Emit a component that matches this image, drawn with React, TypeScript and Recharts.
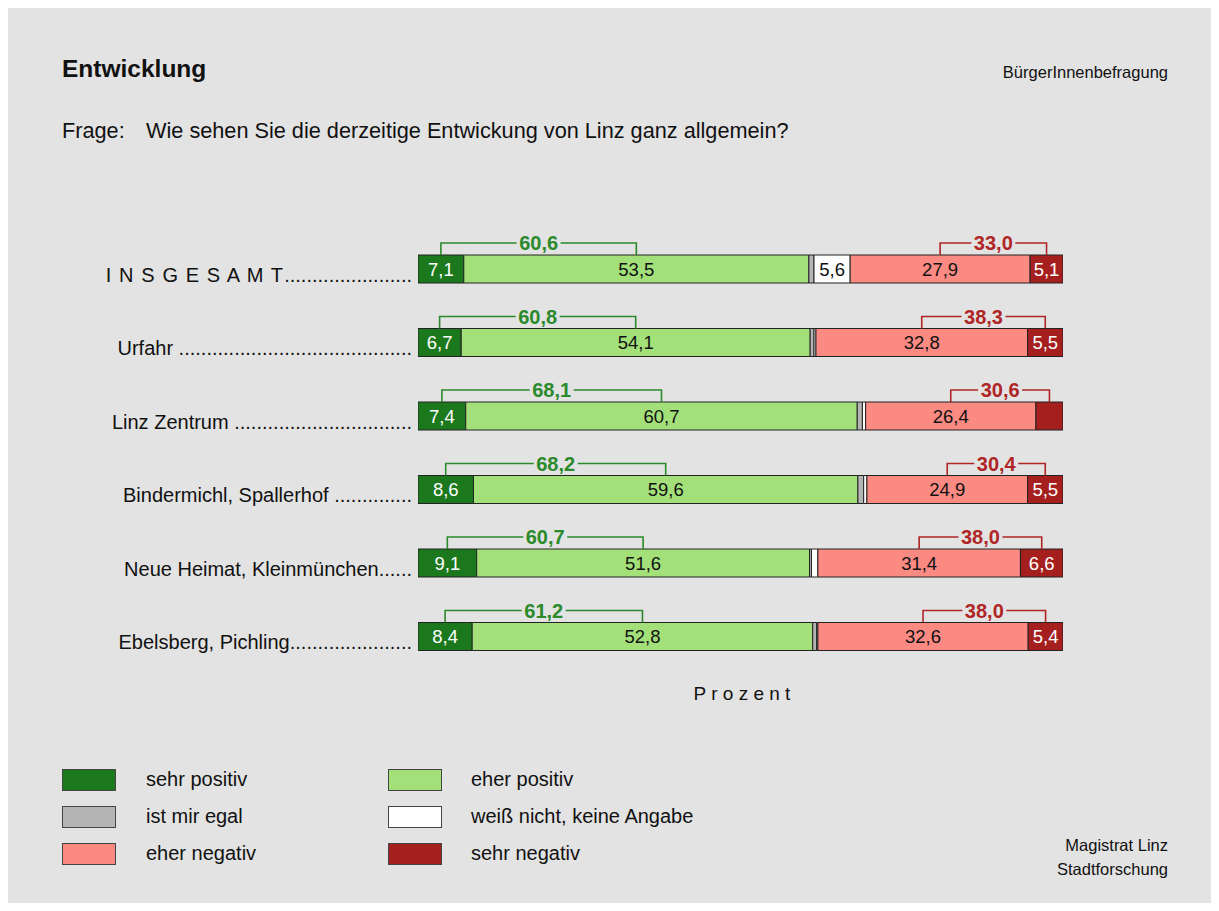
import React from 'react';
import { BarChart, Bar, XAxis, YAxis, LabelList } from 'recharts';

const categories = [
  'I N S G E S A M T',
  'Urfahr ',
  'Linz Zentrum ',
  'Bindermichl, Spallerhof ',
  'Neue Heimat, Kleinmünchen',
  'Ebelsberg, Pichling',
];
const leaderDots = [23, 42, 32, 14, 6, 22];
const sehrPositiv = [7.1, 6.7, 7.4, 8.6, 9.1, 8.4];
const eherPositiv = [53.5, 54.1, 60.7, 59.6, 51.6, 52.8];
const egal = [0.8, 0.6, 0.8, 0.9, 0.3, 0.6];
const weissNicht = [5.6, 0.3, 0.5, 0.5, 1.0, 0.2];
const eherNegativ = [27.9, 32.8, 26.4, 24.9, 31.4, 32.6];
const sehrNegativ = [5.1, 5.5, 4.2, 5.5, 6.6, 5.4];

const FONT = '"Liberation Sans", Arial, Helvetica, sans-serif';
const BG = '#e3e3e3';
const STROKE = '#222';

const C = {
  sp: '#1c781c',
  ep: '#a3e07a',
  eg: '#b4b4b4',
  wn: '#ffffff',
  en: '#fb8a83',
  sn: '#a61f1f',
};
const GREEN = '#2b8a2b';
const RED = '#b02626';

const data = categories.map((name, i) => ({
  name,
  sp: sehrPositiv[i],
  ep: eherPositiv[i],
  eg: egal[i],
  wn: weissNicht[i],
  en: eherNegativ[i],
  sn: sehrNegativ[i],
}));

const fmt = (v: number) => v.toFixed(1).replace('.', ',');

let ctx: CanvasRenderingContext2D | null = null;
const measure = (s: string, font: string) => {
  if (!ctx) ctx = document.createElement('canvas').getContext('2d');
  if (!ctx) return s.length * 10;
  ctx.font = font;
  return ctx.measureText(s).width;
};

const LABEL_END = 404;

const CategoryTick = ({ y, payload, index }: any) => {
  const i = index ?? categories.indexOf(payload.value);
  return (
    <text x={LABEL_END} y={y + 13} fontSize={20} fontFamily={FONT} fill="#111" textAnchor="end">
      <tspan letterSpacing={i === 0 ? 1.1 : 0}>{payload.value}</tspan>
      <tspan>{'.'.repeat(leaderDots[i] ?? 0)}</tspan>
    </text>
  );
};

const valueLabel = (color: string) => (props: any) => {
  const { x, y, width, height, value } = props;
  if (value == null || value < 5) return null;
  return (
    <text
      x={x + width / 2}
      y={y + height / 2 + 6.5}
      textAnchor="middle"
      fontSize={18.5}
      fontFamily={FONT}
      fill={color}
    >
      {fmt(value)}
    </text>
  );
};

const Bracket = ({ x1, x2, top, label, color }: any) => {
  const ly = top - 12;
  const font = `bold 20px ${FONT}`;
  const tw = measure(label, font) + 5;
  const cx = (x1 + x2) / 2;
  return (
    <g>
      <path
        d={`M${x1},${top} V${ly} H${x2} V${top}`}
        fill="none"
        stroke={color}
        strokeWidth={1.6}
      />
      <rect x={cx - tw / 2} y={ly - 4} width={tw} height={8} fill={BG} />
      <text x={cx} y={ly + 7} textAnchor="middle" fontSize={20} fontWeight="bold" fontFamily={FONT} fill={color}>
        {label}
      </text>
    </g>
  );
};

// bracket from centre of "sehr positiv" to centre of "eher positiv"
const positiveBracket = (props: any) => {
  const { x, y, width, value, index } = props;
  const ppu = width / value;
  const sp = sehrPositiv[index];
  const x1 = x - (sp * ppu) / 2;
  const x2 = x + width / 2;
  return <Bracket x1={x1} x2={x2} top={y} label={fmt(sp + value)} color={GREEN} />;
};

// bracket from centre of "eher negativ" to centre of "sehr negativ"
const negativeBracket = (props: any) => {
  const { x, y, width, value, index } = props;
  const ppu = width / value;
  const en = eherNegativ[index];
  const x1 = x - (en * ppu) / 2;
  const x2 = x + width / 2;
  return <Bracket x1={x1} x2={x2} top={y} label={fmt(en + value)} color={RED} />;
};

const legendItems = [
  { label: 'sehr positiv', color: C.sp, col: 0, row: 0 },
  { label: 'eher positiv', color: C.ep, col: 1, row: 0 },
  { label: 'ist mir egal', color: C.eg, col: 0, row: 1 },
  { label: 'weiß nicht, keine Angabe', color: C.wn, col: 1, row: 1 },
  { label: 'eher negativ', color: C.en, col: 0, row: 2 },
  { label: 'sehr negativ', color: C.sn, col: 1, row: 2 },
];

const txt = (size: number, baseline: number): React.CSSProperties => ({
  position: 'absolute',
  fontSize: size,
  lineHeight: 1,
  top: baseline - 0.85 * size,
  whiteSpace: 'nowrap',
  color: '#111',
});

export default function App() {
  return (
    <div
      style={{
        position: 'relative',
        width: 1203,
        height: 895,
        background: BG,
        fontFamily: FONT,
        overflow: 'hidden',
      }}
    >
      <div style={{ ...txt(24.5, 70), left: 54, fontWeight: 'bold' }}>Entwicklung</div>
      <div style={{ ...txt(16.5, 70), right: 43 }}>BürgerInnenbefragung</div>
      <div style={{ ...txt(21.7, 130), left: 54 }}>Frage:</div>
      <div style={{ ...txt(21.7, 130), left: 138 }}>Wie sehen Sie die derzeitige Entwickung von Linz ganz allgemein?</div>

      <div style={{ position: 'absolute', left: 0, top: 0 }}>
        <BarChart
          width={1203}
          height={895}
          data={data}
          layout="vertical"
          margin={{ top: 224, right: 148, bottom: 230, left: 110 }}
          barSize={28}
        >
          <XAxis type="number" domain={[0, 100]} hide allowDataOverflow />
          <YAxis
            type="category"
            dataKey="name"
            width={300}
            axisLine={false}
            tickLine={false}
            tick={<CategoryTick />}
            interval={0}
          />
          <Bar dataKey="sp" stackId="a" fill={C.sp} stroke={STROKE} strokeWidth={1} isAnimationActive={false}>
            <LabelList dataKey="sp" content={valueLabel('#ffffff')} />
          </Bar>
          <Bar dataKey="ep" stackId="a" fill={C.ep} stroke={STROKE} strokeWidth={1} isAnimationActive={false}>
            <LabelList dataKey="ep" content={valueLabel('#111')} />
            <LabelList dataKey="ep" content={positiveBracket} />
          </Bar>
          <Bar dataKey="eg" stackId="a" fill={C.eg} stroke={STROKE} strokeWidth={1} isAnimationActive={false} />
          <Bar dataKey="wn" stackId="a" fill={C.wn} stroke={STROKE} strokeWidth={1} isAnimationActive={false}>
            <LabelList dataKey="wn" content={valueLabel('#111')} />
          </Bar>
          <Bar dataKey="en" stackId="a" fill={C.en} stroke={STROKE} strokeWidth={1} isAnimationActive={false}>
            <LabelList dataKey="en" content={valueLabel('#111')} />
          </Bar>
          <Bar dataKey="sn" stackId="a" fill={C.sn} stroke={STROKE} strokeWidth={1} isAnimationActive={false}>
            <LabelList dataKey="sn" content={valueLabel('#ffffff')} />
            <LabelList dataKey="sn" content={negativeBracket} />
          </Bar>
        </BarChart>
      </div>

      <div style={{ ...txt(19, 692), left: 734, transform: 'translateX(-50%)' }}>P r o z e n t</div>

      {legendItems.map((it) => (
        <React.Fragment key={it.label}>
          <div
            style={{
              position: 'absolute',
              left: it.col === 0 ? 54 : 380,
              top: 761 + it.row * 37,
              width: 52,
              height: 20,
              background: it.color,
              border: '1px solid #444',
            }}
          />
          <div style={{ ...txt(20, 778 + it.row * 37), left: it.col === 0 ? 138 : 463 }}>{it.label}</div>
        </React.Fragment>
      ))}

      <div style={{ ...txt(16.5, 843), right: 43 }}>Magistrat Linz</div>
      <div style={{ ...txt(16.5, 867), right: 43 }}>Stadtforschung</div>
    </div>
  );
}
